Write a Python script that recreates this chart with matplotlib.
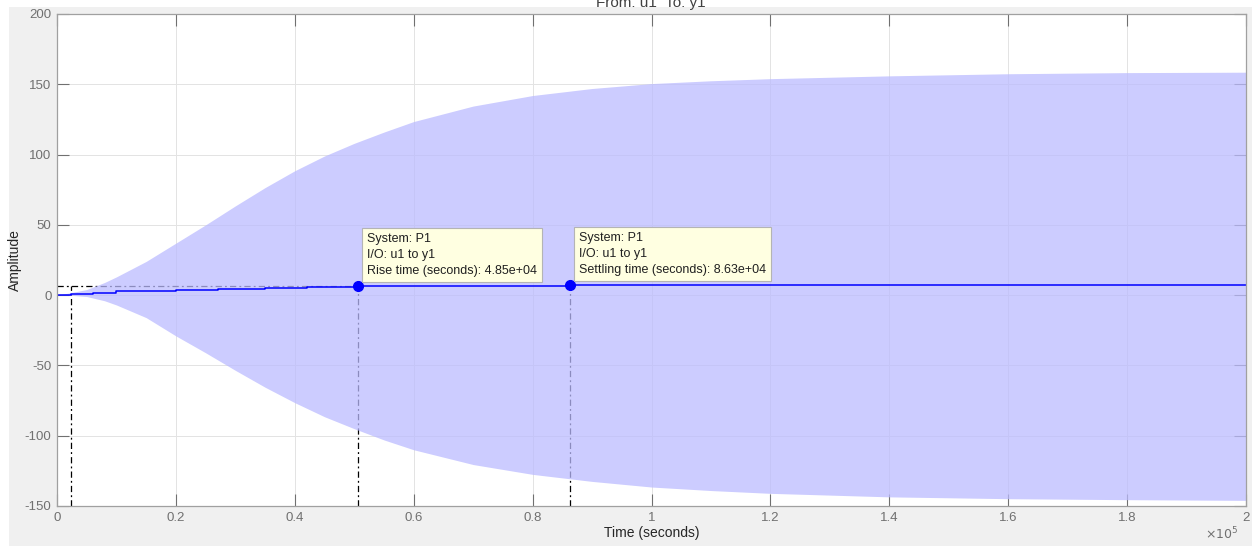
import matplotlib
matplotlib.use('Agg')
import matplotlib.pyplot as plt
import matplotlib.ticker as ticker
from matplotlib.patches import Rectangle

# ── Data (time in seconds) ────────────────────────────────────────────────────
# envelope of the fast oscillation
t_env = [0, 2e3, 5e3, 8e3, 1e4, 1.5e4, 2e4, 2.5e4, 3e4, 3.5e4, 4e4, 4.5e4, 5e4,
         5.5e4, 6e4, 7e4, 8e4, 9e4, 1e5, 1.1e5, 1.2e5, 1.4e5, 1.6e5, 1.8e5, 2e5]
env_upper = [0, 1.5, 4, 9, 13, 24, 37, 50, 63.5, 76.5, 88.5, 99, 108,
             116, 123.5, 134.5, 142, 147, 150.5, 152.5, 154, 156, 157.5, 158.3, 158.6]
env_lower = [0, 0, -1, -4, -7, -16, -29, -41, -53.5, -65.5, -76.5, -86.5, -95,
             -103, -110, -120.5, -127.5, -132.5, -136.5, -139, -141, -143.5, -144.8, -145.5, -146]

# mean (step response) curve
t_mean = [0, 2.3e3, 6e3, 1e4, 2e4, 2.7e4, 3.5e4, 4.2e4, 5.07e4, 6.5e4, 8.63e4, 1.2e5, 2e5]
y_mean = [0, 0.7, 1.8, 2.8, 3.6, 4.6, 5.4, 5.9, 6.3, 6.7, 6.9, 7.0, 7.0]

t10 = 2.3e3
t_rise, y_rise = 5.07e4, 6.3
t_settle, y_settle = 8.63e4, 6.9
rise_time = 4.85e4
settle_time = 8.63e4

x_ticks = [0, 2e4, 4e4, 6e4, 8e4, 1e5, 1.2e5, 1.4e5, 1.6e5, 1.8e5, 2e5]
y_ticks = [-150, -100, -50, 0, 50, 100, 150, 200]

# ── Style ─────────────────────────────────────────────────────────────────────
FIG_BG  = "#f0f0f0"
FILL    = (0.733, 0.733, 1.0)
BLUE    = "#0000ff"
TICKCOL = "#707070"
LABCOL  = "#262626"
DASHDOT = (0, (5, 2.5, 1.5, 2.5))

plt.rcParams.update({
    "font.family": ["Liberation Sans", "DejaVu Sans"],
    "font.size": 9.5,
    "axes.unicode_minus": False,
})

fig = plt.figure(figsize=(12.52, 5.46), dpi=100, facecolor="white")
fig.add_artist(Rectangle((9 / 1252, 0), 1, 1 - 7 / 546, transform=fig.transFigure,
                         facecolor=FIG_BG, edgecolor="none", zorder=-10))

ax = fig.add_axes([57 / 1252, 40 / 546, 1189 / 1252, 492 / 546])
ax.set_facecolor("white")

# characteristic lines (under the fill, so they look grey inside it)
ax.plot([0, t_rise], [y_rise, y_rise], color="black", lw=0.9, ls=DASHDOT, zorder=1)
ax.plot([t10, t10], [-150, y_rise], color="black", lw=0.9, ls=DASHDOT, zorder=1)
ax.plot([t_rise, t_rise], [-150, y_rise], color="black", lw=0.9, ls=DASHDOT, zorder=1)
ax.plot([t_settle, t_settle], [-150, y_settle], color="black", lw=0.9, ls=DASHDOT, zorder=1)

ax.fill_between(t_env, env_lower, env_upper, color=FILL, alpha=0.75,
                linewidth=0, zorder=1.5)

ax.plot(t_mean, y_mean, color=BLUE, lw=1.1, drawstyle="steps-post", zorder=2)
ax.plot([t_rise, t_settle], [y_rise, y_settle], ls="none", marker="o",
        ms=7, color=BLUE, zorder=3)

box = dict(boxstyle="square,pad=0.4", facecolor="#ffffe1", edgecolor="#b4b4b4", lw=0.8)
ax.annotate(f"System: P1\nI/O: u1 to y1\nRise time (seconds): {rise_time:.2e}",
            xy=(t_rise, y_rise), xytext=(6.5, 6.5), textcoords="offset points",
            ha="left", va="bottom", fontsize=9, linespacing=1.45, color="#202020",
            bbox=box, zorder=4)
ax.annotate(f"System: P1\nI/O: u1 to y1\nSettling time (seconds): {settle_time:.2e}",
            xy=(t_settle, y_settle), xytext=(6.5, 6.5), textcoords="offset points",
            ha="left", va="bottom", fontsize=9, linespacing=1.45, color="#202020",
            bbox=box, zorder=4)

# ── Axes ──────────────────────────────────────────────────────────────────────
ax.set_xlim(0, 2e5)
ax.set_ylim(-150, 200)
ax.set_xticks(x_ticks)
ax.set_yticks(y_ticks)
ax.xaxis.set_major_formatter(ticker.FuncFormatter(lambda v, _: f"{v / 1e5:g}"))
ax.tick_params(direction="in", length=8.5, width=0.8, colors=TICKCOL,
               top=True, right=True, labelsize=9.5, pad=4)
ax.grid(True, color="#e3e3e3", lw=0.7)
ax.set_axisbelow(True)
for spine in ax.spines.values():
    spine.set_edgecolor("#a0a0a0")
    spine.set_linewidth(0.9)

ax.set_xlabel("Time (seconds)", fontsize=10, color=LABCOL, labelpad=2)
ax.set_ylabel("Amplitude", fontsize=10, color=LABCOL, labelpad=2)

fig.text(1238 / 1252, 1 - 539 / 546, r"$\times10^{5}$", ha="right", va="baseline",
         fontsize=9, color=TICKCOL)
# title is partly cut off at the top edge, as in the original
fig.text(651 / 1252, 1 - 6.5 / 546, "From: u1  To: y1", ha="center", va="baseline",
         fontsize=11, color="#404040")

fig.savefig("out.png", dpi=100, facecolor=fig.get_facecolor())
